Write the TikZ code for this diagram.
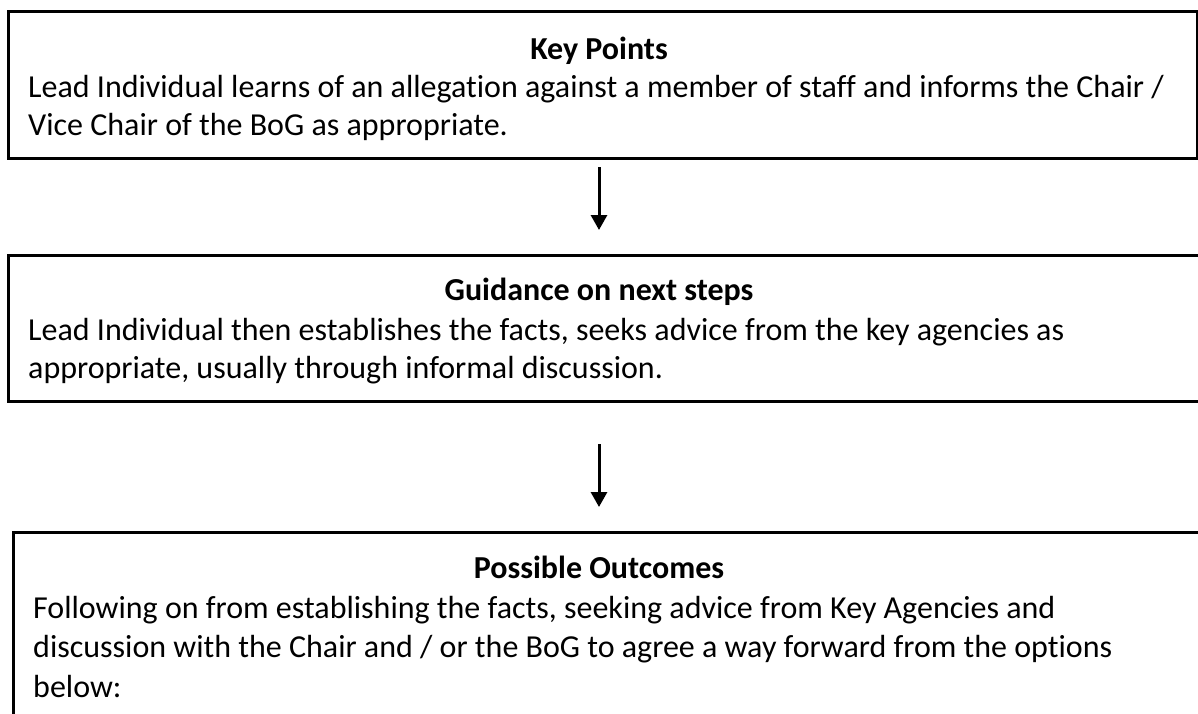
\documentclass[tikz,border=0pt]{standalone}
\usepackage{fontspec}
\setmainfont{Carlito}[Ligatures=NoCommon]
\usetikzlibrary{arrows.meta}
\begin{document}
\begin{tikzpicture}[x=1pt,y=-1pt,
  panel/.style={draw=black,line width=2.6pt,inner sep=0pt,anchor=north west},
  heading/.style={anchor=base,font=\fontsize{32}{38}\selectfont\bfseries,inner sep=0pt},
  bodyline/.style={anchor=base west,font=\fontsize{32}{38}\selectfont,inner sep=0pt},
  flow/.style={line width=3pt,-{Triangle[width=16pt,length=15pt]}}]
\useasboundingbox (0,0) rectangle (1198,713);
\clip (0,0) rectangle (1198,713);

% three stacked panels; the lower two run past the right and bottom edge
\node[panel,minimum width=1189pt,minimum height=147pt] (keybox) at (7,10) {};
\node[panel,minimum width=1220pt,minimum height=146pt] (guidebox) at (7,254) {};
\node[panel,minimum width=1220pt,minimum height=300pt] (outbox) at (12,531) {};

% panel 1
\node[heading] (keytitle) at (599,59) {Key Points};
\node[bodyline] (key1) at (28,97) {Lead Individual learns of an allegation against a member of staff and informs the Chair /};
\node[bodyline] (key2) at (28,135) {Vice Chair of the BoG as appropriate.};

% panel 2
\node[heading] (guidetitle) at (599,300) {Guidance on next steps};
\node[bodyline] (guide1) at (28,340) {Lead Individual then establishes the facts, seeks advice from the key agencies as};
\node[bodyline] (guide2) at (28,378) {appropriate, usually through informal discussion.};

% panel 3
\node[heading] (outtitle) at (599,578) {Possible Outcomes};
\node[bodyline] (out1) at (33,618) {Following on from establishing the facts, seeking advice from Key Agencies and};
\node[bodyline] (out2) at (33,657) {discussion with the Chair and / or the BoG to agree a way forward from the options};
\node[bodyline] (out3) at (33,697) {below:};

% connectors between the panels
\coordinate (a1start) at (599,167);
\coordinate (a1end) at (599,230);
\coordinate (a2start) at (599,444);
\coordinate (a2end) at (599,507);
\draw[flow] (a1start) -- (a1end);
\draw[flow] (a2start) -- (a2end);
\end{tikzpicture}
\end{document}
